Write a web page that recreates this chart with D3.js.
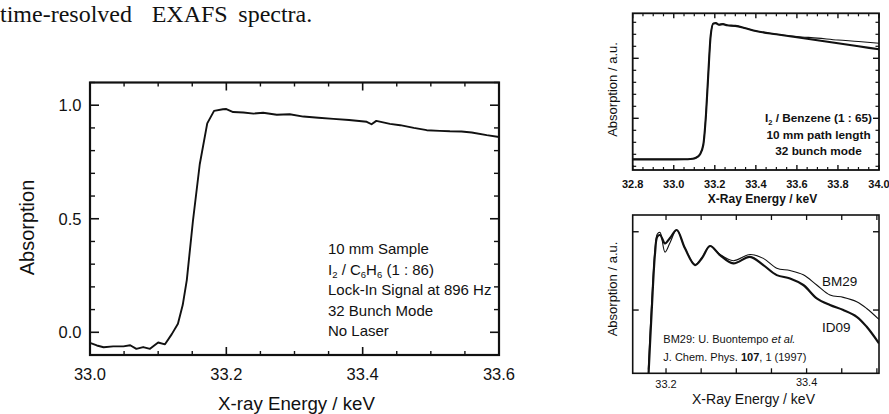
<!DOCTYPE html>
<html><head><meta charset="utf-8">
<script src="https://cdn.jsdelivr.net/npm/d3@7"></script>
<style>
html,body{margin:0;padding:0;background:#fff;}
svg{display:block;}
text{font-family:"Liberation Sans",Arial,Helvetica,sans-serif;fill:#111;}
</style></head>
<body>
<svg id="c" width="889" height="414"></svg>
<script>
// ---------- DATA ----------
// Main panel: I2 / C6H6 lock-in absorption edge
const mainEnergy = [33.000,33.010,33.020,33.034,33.049,33.059,33.068,33.078,33.088,33.100,33.110,33.120,33.129,33.136,33.142,33.151,33.161,33.172,33.182,33.195,33.200,33.210,33.225,33.240,33.254,33.274,33.293,33.313,33.335,33.357,33.380,33.406,33.413,33.420,33.440,33.455,33.475,33.494,33.513,33.528,33.545,33.560,33.582,33.600];
const mainAbs    = [-0.047,-0.058,-0.066,-0.062,-0.062,-0.057,-0.073,-0.065,-0.073,-0.045,-0.053,-0.008,0.038,0.12,0.23,0.49,0.74,0.92,0.975,0.982,0.983,0.970,0.968,0.963,0.967,0.958,0.960,0.950,0.945,0.940,0.935,0.927,0.916,0.931,0.918,0.912,0.900,0.890,0.887,0.885,0.884,0.880,0.868,0.860];
const mainXTicks = [33.0, 33.2, 33.4, 33.6];
const mainYTicks = [0.0, 0.5, 1.0];
const mainNotes  = ["10 mm Sample", "I2 / C6H6 (1 : 86)", "Lock-In Signal at 896 Hz", "32 Bunch Mode", "No Laser"];

// Inset 1: I2 / Benzene edge, two scans
const inset1Energy = [32.80,32.90,33.00,33.05,33.08,33.10,33.115,33.128,33.144,33.157,33.168,33.180,33.193,33.205,33.22,33.24,33.26,33.30,33.35,33.40,33.50,33.60,33.70,33.80,33.90,34.00];
const inset1Thick  = [0.158,0.158,0.158,0.159,0.161,0.166,0.178,0.20,0.28,0.53,0.86,1.19,1.29,1.293,1.28,1.285,1.275,1.27,1.25,1.228,1.20,1.175,1.15,1.125,1.10,1.075];
const inset1Thin   = [0.158,0.158,0.158,0.159,0.161,0.166,0.178,0.20,0.28,0.53,0.86,1.19,1.29,1.293,1.28,1.285,1.275,1.27,1.25,1.228,1.20,1.182,1.168,1.152,1.14,1.125];
const inset1XTicks = [32.8, 33.0, 33.2, 33.4, 33.6, 33.8, 34.0];
const inset1Notes  = ["I2 / Benzene (1 : 65)", "10 mm path length", "32 bunch mode"];

// Inset 2: EXAFS comparison ID09 vs BM29
const inset2Energy = [33.1748,33.1797,33.1844,33.1876,33.1915,33.1986,33.2057,33.2152,33.227,33.2413,33.2512,33.2626,33.2768,33.2957,33.3195,33.3384,33.3575,33.3764,33.3953,33.4144,33.4333,33.4522,33.4713,33.4855,33.503];
const id09 = [0.06,0.50,0.864,0.968,0.979,0.926,0.96,1.011,0.894,0.787,0.832,0.909,0.851,0.798,0.84,0.787,0.723,0.702,0.66,0.575,0.532,0.50,0.457,0.393,0.287];
const bm29 = [0.12,0.56,0.89,0.985,0.995,0.87,0.93,1.011,0.894,0.79,0.835,0.909,0.855,0.815,0.855,0.83,0.767,0.752,0.725,0.66,0.596,0.581,0.553,0.51,0.44];
const inset2XTicks = [33.2, 33.4];
const inset2Labels = ["BM29", "ID09"];
const citation = ["BM29: U. Buontempo ", "et al.", "J. Chem. Phys. ", "107", ", 1 (1997)"];

// ---------- DRAW ----------
const svg = d3.select("#c");
const ink = "#111";

// Page text fragment above the figure
const pageText = svg.append("g");
[["time-resolved",0],["EXAFS",151.7],["spectra.",238.3]].forEach(([t,x]) =>
  pageText.append("text").attr("x", x).attr("y", 21.8)
    .style("font-family","'Liberation Serif','Times New Roman',serif").style("font-size","24px").text(t));

function ticks(g, scale, vals, orient, len, width) {
  vals.forEach(v => {
    const p = scale(v);
    let x1,y1,x2,y2;
    if (orient.edge === "bottom") { x1=x2=p; y1=orient.pos; y2=orient.pos-len; }
    if (orient.edge === "top")    { x1=x2=p; y1=orient.pos; y2=orient.pos+len; }
    if (orient.edge === "left")   { y1=y2=p; x1=orient.pos; x2=orient.pos+len; }
    if (orient.edge === "right")  { y1=y2=p; x1=orient.pos; x2=orient.pos-len; }
    g.append("line").attr("x1",x1).attr("y1",y1).attr("x2",x2).attr("y2",y2)
      .attr("stroke", ink).attr("stroke-width", width);
  });
}
function range(a, b, s) { const out=[]; for (let v=a; v<=b+1e-9; v+=s) out.push(+v.toFixed(4)); return out; }

// ===== Main panel =====
const M = {l:90, r:499, t:82.5, b:355};
const mx = d3.scaleLinear().domain([33.0, 33.6]).range([M.l, M.r]);
const my = d3.scaleLinear().domain([-0.1, 1.1]).range([M.b, M.t]);
const gm = svg.append("g");
gm.append("rect").attr("x",M.l).attr("y",M.t).attr("width",M.r-M.l).attr("height",M.b-M.t)
  .attr("fill","none").attr("stroke",ink).attr("stroke-width",2.2);
const mxMinor = range(33.0, 33.6, 0.05).filter(v => !mainXTicks.some(t => Math.abs(t-v)<1e-6));
const myMinor = range(-0.1, 1.1, 0.1).filter(v => !mainYTicks.some(t => Math.abs(t-v)<1e-6));
ticks(gm, mx, mainXTicks, {edge:"bottom",pos:M.b}, 8, 1.6);
ticks(gm, mx, mxMinor,   {edge:"bottom",pos:M.b}, 4, 1.4);
ticks(gm, mx, mainXTicks, {edge:"top",pos:M.t}, 8, 1.6);
ticks(gm, mx, mxMinor,   {edge:"top",pos:M.t}, 4, 1.4);
ticks(gm, my, mainYTicks, {edge:"left",pos:M.l}, 9, 1.6);
ticks(gm, my, myMinor,   {edge:"left",pos:M.l}, 5, 1.4);
ticks(gm, my, mainYTicks, {edge:"right",pos:M.r}, 9, 1.6);
ticks(gm, my, myMinor,   {edge:"right",pos:M.r}, 5, 1.4);
mainXTicks.forEach(v => gm.append("text").attr("x", mx(v)).attr("y", 379.5)
  .attr("text-anchor","middle").style("font-size","16.5px").text(v.toFixed(1)));
mainYTicks.forEach(v => gm.append("text").attr("x", 81.5).attr("y", my(v)+5.8)
  .attr("text-anchor","end").style("font-size","16.5px").text(v.toFixed(1)));
gm.append("text").attr("x", 296.5).attr("y", 409.5).attr("text-anchor","middle")
  .style("font-size","18.7px").text("X-ray Energy / keV");
gm.append("text").attr("transform","translate(34,227.5) rotate(-90)").attr("text-anchor","middle")
  .style("font-size","20px").text("Absorption");
const mainPts = mainEnergy.map((e,i) => [e, mainAbs[i]]);
gm.append("path").datum(mainPts)
  .attr("d", d3.line().x(d => mx(d[0])).y(d => my(d[1])))
  .attr("fill","none").attr("stroke",ink).attr("stroke-width",1.9).attr("stroke-linejoin","round");
const noteY = [254.3, 274.7, 295.1, 315.5, 335.9];
mainNotes.forEach((t,i) => {
  const tx = gm.append("text").attr("x", 328).attr("y", noteY[i]).style("font-size","15px");
  if (t.startsWith("I2")) {
    tx.append("tspan").text("I");
    tx.append("tspan").attr("dy",3.5).style("font-size","9.5px").text("2");
    tx.append("tspan").attr("dy",-3.5).text(" / C");
    tx.append("tspan").attr("dy",3.5).style("font-size","9.5px").text("6");
    tx.append("tspan").attr("dy",-3.5).text("H");
    tx.append("tspan").attr("dy",3.5).style("font-size","9.5px").text("6");
    tx.append("tspan").attr("dy",-3.5).text(" (1 : 86)");
  } else tx.text(t);
});

// ===== Inset 1 =====
const A = {l:632.7, r:879, t:13.3, b:170};
const ax = d3.scaleLinear().domain([32.8, 34.0]).range([A.l, A.r]);
const ay = d3.scaleLinear().domain([0.0692, 1.375]).range([A.b, A.t]);
const g1 = svg.append("g");
g1.append("rect").attr("x",A.l).attr("y",A.t).attr("width",A.r-A.l).attr("height",A.b-A.t)
  .attr("fill","none").attr("stroke",ink).attr("stroke-width",1.8);
const a1Minor = range(32.8, 34.0, 0.05).filter(v => !inset1XTicks.some(t => Math.abs(t-v)<1e-6));
const a1Y = range(0.1, 1.3, 0.1);
const a1YMaj = [0.5, 1.0];
const a1YMin = a1Y.filter(v => !a1YMaj.some(t => Math.abs(t-v)<1e-6));
ticks(g1, ax, inset1XTicks, {edge:"bottom",pos:A.b}, 5, 1.4);
ticks(g1, ax, a1Minor, {edge:"bottom",pos:A.b}, 3, 1.2);
ticks(g1, ax, inset1XTicks, {edge:"top",pos:A.t}, 5, 1.4);
ticks(g1, ax, a1Minor, {edge:"top",pos:A.t}, 3, 1.2);
ticks(g1, ay, a1YMaj, {edge:"left",pos:A.l}, 6, 1.4);
ticks(g1, ay, a1YMin, {edge:"left",pos:A.l}, 3.5, 1.2);
ticks(g1, ay, a1YMaj, {edge:"right",pos:A.r}, 6, 1.4);
ticks(g1, ay, a1YMin, {edge:"right",pos:A.r}, 3.5, 1.2);
inset1XTicks.forEach(v => g1.append("text").attr("x", ax(v)).attr("y", 187.7)
  .attr("text-anchor","middle").style("font-size","11px").style("font-weight","bold").text(v.toFixed(1)));
g1.append("text").attr("x", 762.5).attr("y", 202.5).attr("text-anchor","middle")
  .style("font-size","12px").style("font-weight","bold").text("X-Ray Energy / keV");
g1.append("text").attr("transform","translate(616.5,89.5) rotate(-90)").attr("text-anchor","middle")
  .style("font-size","13px").text("Absorption / a.u.");
const line1 = d3.line().x(d => ax(d[0])).y(d => ay(d[1])).curve(d3.curveMonotoneX);
g1.append("path").datum(inset1Energy.map((e,i)=>[e,inset1Thin[i]])).attr("d", line1)
  .attr("fill","none").attr("stroke",ink).attr("stroke-width",1.1);
g1.append("path").datum(inset1Energy.map((e,i)=>[e,inset1Thick[i]])).attr("d", line1)
  .attr("fill","none").attr("stroke",ink).attr("stroke-width",2.1);
const n1Y = [122.3, 139, 154.6];
inset1Notes.forEach((t,i) => {
  const tx = g1.append("text").attr("x", 818.5).attr("y", n1Y[i]).attr("text-anchor","middle")
    .style("font-size","11.8px").style("font-weight","bold");
  if (t.startsWith("I2")) {
    tx.append("tspan").text("I");
    tx.append("tspan").attr("dy",3).style("font-size","7.5px").text("2");
    tx.append("tspan").attr("dy",-3).text(" / Benzene (1 : 65)");
  } else tx.text(t);
});

// ===== Inset 2 =====
const B = {l:632.7, r:879, t:215, b:373.3};
const bx = d3.scaleLinear().domain([33.1526, 33.503]).range([B.l, B.r]);
const by = d3.scaleLinear().domain([0.096, 1.107]).range([B.b, B.t]);
const g2 = svg.append("g");
svg.append("defs").append("clipPath").attr("id","clip2").append("rect")
  .attr("x",B.l).attr("y",B.t).attr("width",B.r-B.l).attr("height",B.b-B.t);
const b2Ticks = range(33.2, 33.5, 0.05);
ticks(g2, bx, b2Ticks, {edge:"bottom",pos:B.b}, 5, 1.3);
ticks(g2, bx, b2Ticks, {edge:"top",pos:B.t}, 5, 1.3);
ticks(g2, by, [0.5, 1.0], {edge:"left",pos:B.l}, 6, 1.4);
ticks(g2, by, [0.5, 1.0], {edge:"right",pos:B.r}, 6, 1.4);
const line2 = d3.line().x(d => bx(d[0])).y(d => by(d[1])).curve(d3.curveCatmullRom.alpha(0.5));
const cg = g2.append("g").attr("clip-path","url(#clip2)");
cg.append("path").datum(inset2Energy.map((e,i)=>[e,bm29[i]])).attr("d", line2)
  .attr("fill","none").attr("stroke",ink).attr("stroke-width",1.1);
cg.append("path").datum(inset2Energy.map((e,i)=>[e,id09[i]])).attr("d", line2)
  .attr("fill","none").attr("stroke",ink).attr("stroke-width",2.2);
g2.append("rect").attr("x",B.l).attr("y",B.t).attr("width",B.r-B.l).attr("height",B.b-B.t)
  .attr("fill","none").attr("stroke",ink).attr("stroke-width",1.6);
const b2LabY = [388.3, 386];
inset2XTicks.forEach((v,i) => g2.append("text").attr("x", bx(v)).attr("y", b2LabY[i])
  .attr("text-anchor","middle").style("font-size","11px").text(v.toFixed(1)));
g2.append("text").attr("x", 753.5).attr("y", 404).attr("text-anchor","middle")
  .style("font-size","14px").text("X-Ray Energy / keV");
g2.append("text").attr("transform","translate(616.5,289) rotate(-90)").attr("text-anchor","middle")
  .style("font-size","13px").text("Absorption / a.u.");
g2.append("text").attr("x", 822).attr("y", 286).style("font-size","13.5px").text(inset2Labels[0]);
g2.append("text").attr("x", 822).attr("y", 331.7).style("font-size","13.5px").text(inset2Labels[1]);
const c1 = g2.append("text").attr("x", 663.3).attr("y", 343.3).style("font-size","11px");
c1.append("tspan").text(citation[0]);
c1.append("tspan").style("font-style","italic").text(citation[1]);
const c2 = g2.append("text").attr("x", 663.3).attr("y", 360.5).style("font-size","11px");
c2.append("tspan").text(citation[2]);
c2.append("tspan").style("font-weight","bold").text(citation[3]);
c2.append("tspan").text(citation[4]);
</script>
</body></html>
